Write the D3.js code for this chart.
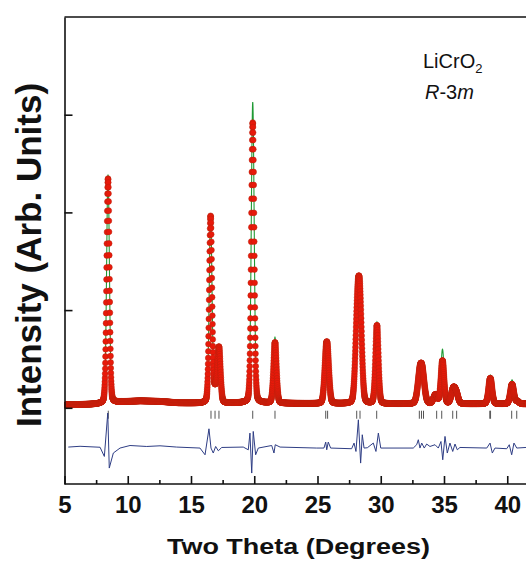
<!DOCTYPE html>
<html>
<head>
<meta charset="utf-8">
<script src="https://cdn.jsdelivr.net/npm/d3@7"></script>
<style>
  body { margin: 0; background: #fff; }
  svg { display: block; font-family: "Liberation Sans", Arial, sans-serif; }
</style>
</head>
<body>
<div id="chart"></div>
<script>
const peakPos  = [8.44, 16.55, 16.9, 17.21, 19.88, 21.64, 25.66, 25.81, 28.14, 28.36, 29.70, 33.08, 33.30, 34.32, 34.88, 35.72, 35.97, 38.66, 40.38, 40.80];
const peakObs  = [2300, 1910, 120, 560, 2870, 620, 380, 380, 800, 930, 800, 260, 260, 90, 440, 140, 100, 262, 200, 25];
const peakCalc = [2340, 1930, 120, 570, 3080, 672, 390, 390, 810, 940, 835, 265, 265, 92, 555, 142, 102, 295, 245, 25];
const peakFwhm = [0.26, 0.26, 0.30, 0.28, 0.27, 0.28, 0.30, 0.30, 0.35, 0.35, 0.28, 0.40, 0.40, 0.35, 0.30, 0.35, 0.35, 0.32, 0.32, 0.30];

// Background level
const bgPos = [5, 7, 8, 9.5, 11, 12.5, 14, 16, 20, 25, 30, 36, 42];
const bgVal = [30, 35, 40, 60, 70, 65, 50, 45, 48, 42, 40, 40, 40];

// Bragg reflection markers
const braggPos = [8.46, 16.58, 16.9, 17.21, 19.88, 21.64, 25.65, 25.8, 28.1, 28.36, 29.68, 33.05, 33.22, 33.38, 34.42, 34.82, 35.69, 36.0, 38.62, 38.68, 40.35, 40.75];

// Difference curve (obs - calc), key vertices
const diffOffset = -405;
const diffPos = [5.30, 6.23, 7.81, 8.15, 8.42, 8.54, 8.86, 9.39, 10.18, 11.50, 12.55, 13.87, 15.71, 16.11, 16.42, 16.58, 16.76, 16.95, 17.16, 17.43,
  19.13, 19.53, 19.66, 19.80, 19.92, 20.11, 20.32, 21.38, 21.56, 21.66, 22.04, 24.94, 25.51, 25.65, 25.73, 25.85, 26.04,
  27.70, 27.89, 28.04, 28.23, 28.41, 28.54, 28.68, 28.94, 29.41, 29.62, 29.81, 30.00, 32.57, 32.84, 32.97, 33.10, 33.24, 33.44,
  33.63, 33.89, 34.29, 34.55, 34.76, 34.90, 35.08, 35.26, 35.47, 35.69, 35.87, 36.05, 36.26, 38.38, 38.64, 38.82, 39.03,
  39.96, 40.16, 40.35, 40.53, 40.75, 41.48];
const diffVal = [3, 11, 1, -93, 351, -212, -58, -7, 19, 9, 16, 3, -7, -76, 190, -7, -58, 9, -35, -1,
  3, -25, 146, -263, 163, -76, -7, 19, -58, 27, 3, -7, -7, 54, -25, 54, -7,
  -14, 44, -42, 282, -161, 129, -7, -4, 44, -42, 146, -7, -7, 27, 78, -7, 44, -7,
  34, 9, 27, -7, 60, -127, 112, -58, 44, -42, 34, -25, -1, -7, 44, -58, -7,
  -14, 27, -76, 44, -7, -1];

const xTicks = [5, 10, 15, 20, 25, 30, 35, 40];
const xMinor = [7.5, 12.5, 17.5, 22.5, 27.5, 32.5, 37.5];
const yTicks = [0, 1000, 2000, 3000];

const width = 526;
const height = 563;

const x = d3.scaleLinear().domain([5, 45]).range([64.5, 570.5]);
const y = d3.scaleLinear().domain([-780, 4000]).range([484, 17]);

const svg = d3.select("#chart")
  .append("svg")
  .attr("width", width)
  .attr("height", height);

svg.append("defs").append("clipPath")
  .attr("id", "plot")
  .append("rect")
  .attr("x", 64.5).attr("y", 17)
  .attr("width", 570.5 - 64.5).attr("height", 484 - 17);

// pseudo-Voigt profile built from the reflection list
const eta = 0.15;
const bg = d3.scaleLinear().domain(bgPos).range(bgVal).clamp(true);
const profile = (t, heights) => {
  let v = bg(t);
  peakPos.forEach((p, i) => {
    const w = peakFwhm[i];
    const d2 = (t - p) * (t - p) / (w * w);
    v += heights[i] * ((1 - eta) * Math.exp(-4 * Math.LN2 * d2) + eta / (1 + 4 * d2));
  });
  return v;
};

const steps = d3.range(5.1, 41.7, 0.01);
const obs = steps.map(t => ({ t, v: profile(t, peakObs) }));
const calc = steps.map(t => ({ t, v: profile(t, peakCalc) }));

const g = svg.append("g").attr("clip-path", "url(#plot)");

// calculated pattern
g.append("path")
  .datum(calc)
  .attr("fill", "none")
  .attr("stroke", "#1f9a34")
  .attr("stroke-width", 1.1)
  .attr("d", d3.line().x(d => x(d.t)).y(d => y(d.v)));

// observed points
g.append("g")
  .selectAll("circle")
  .data(obs)
  .join("circle")
  .attr("cx", d => x(d.t))
  .attr("cy", d => y(d.v))
  .attr("r", 2.9)
  .attr("fill", "#e8190a")
  .attr("stroke", "#b8220e")
  .attr("stroke-width", 0.5);

// Bragg markers
g.append("g")
  .selectAll("line")
  .data(braggPos)
  .join("line")
  .attr("x1", d => x(d)).attr("x2", d => x(d))
  .attr("y1", y(-30)).attr("y2", y(-112))
  .attr("stroke", "#555")
  .attr("stroke-width", 1);

// difference curve
g.append("path")
  .datum(diffPos.map((p, i) => ({ t: p, v: diffVal[i] + diffOffset })))
  .attr("fill", "none")
  .attr("stroke", "#2e3d84")
  .attr("stroke-width", 1)
  .attr("d", d3.line().x(d => x(d.t)).y(d => y(d.v)));

// axes
const xAxis = svg.append("g")
  .attr("transform", "translate(0,484)")
  .call(d3.axisBottom(x).tickValues(xTicks).tickSizeInner(-8).tickSizeOuter(0).tickPadding(12));
xAxis.select(".domain").attr("d", "M64.5,0H526");
xAxis.selectAll("text")
  .attr("font-size", 24)
  .attr("font-weight", "bold")
  .attr("font-family", "Liberation Sans, Arial, sans-serif")
  .attr("fill", "#111");

svg.append("g")
  .attr("transform", "translate(0,484)")
  .call(d3.axisBottom(x).tickValues(xMinor).tickSizeInner(-4).tickSizeOuter(0).tickFormat(""))
  .select(".domain").remove();

const yAxis = svg.append("g")
  .attr("transform", "translate(64.5,0)")
  .call(d3.axisLeft(y).tickValues(yTicks).tickSizeInner(-8).tickSizeOuter(0).tickFormat(""));

svg.selectAll(".domain, .tick line").attr("stroke", "#111").attr("stroke-width", 1.6);

// top frame
svg.append("line")
  .attr("x1", 64.5).attr("x2", 526)
  .attr("y1", 17).attr("y2", 17)
  .attr("stroke", "#111").attr("stroke-width", 1.6);

// axis titles
svg.append("text")
  .attr("transform", "translate(41,255) rotate(-90)")
  .attr("text-anchor", "middle")
  .attr("font-size", 35)
  .attr("font-weight", "bold")
  .attr("fill", "#111")
  .text("Intensity (Arb. Units)");

svg.append("text")
  .attr("x", 167).attr("y", 554)
  .attr("font-size", 22)
  .attr("font-weight", "bold")
  .attr("fill", "#111")
  .attr("textLength", 263)
  .attr("lengthAdjust", "spacingAndGlyphs")
  .text("Two Theta (Degrees)");

// phase label
const lab = svg.append("text").attr("x", 423).attr("y", 68).attr("font-size", 20).attr("fill", "#111");
lab.append("tspan").text("LiCrO");
lab.append("tspan").attr("font-size", 13).attr("dy", 5).text("2");

const sg = svg.append("text").attr("x", 425).attr("y", 99).attr("font-size", 20).attr("fill", "#111");
sg.append("tspan").attr("font-style", "italic").text("R");
sg.append("tspan").text("-3");
sg.append("tspan").attr("font-style", "italic").text("m");
</script>
</body>
</html>
